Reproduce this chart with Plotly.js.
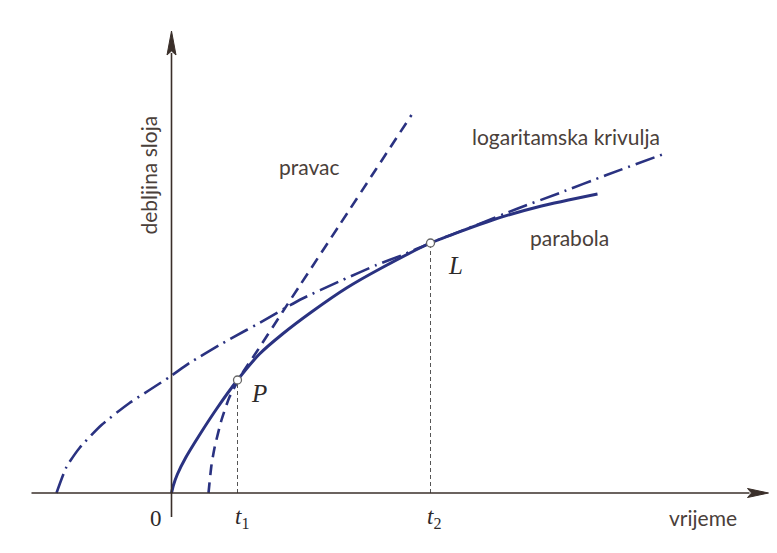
<!DOCTYPE html>
<html>
<head>
<meta charset="utf-8">
<script src="https://cdn.plot.ly/plotly-3.0.1.min.js"></script>
<style>html,body{margin:0;padding:0;background:#fff;}#chart{width:777px;height:553px;}</style>
</head>
<body>
<div id="chart"></div>
<script>
// Parabola (solid)
const parabolaX = [0, 2, 6, 14, 28, 45, 66, 88, 111, 140, 175, 210, 259, 321, 370, 426];
const parabolaY = [0, 8, 19, 35, 58, 84, 113, 139, 159, 181, 205, 225, 250, 273, 287, 299];
// Pravac (dashed)
const pravacX = [37, 38, 40, 43, 50, 58, 71, 85, 111, 128, 168, 204, 240];
const pravacY = [0, 10, 28, 45, 73, 96, 120, 141, 181, 207, 268, 323, 378];
// Logaritamska krivulja (dash-dot)
const logX = [-115, -105, -92, -70, -42, -22, -2, 18, 48, 75, 88, 128, 171, 205, 231, 259, 305, 345, 388, 435, 495];
const logY = [0, 26, 45, 68, 90, 103, 116, 130, 148, 163, 170, 193, 213, 228, 238, 250, 268, 284, 300, 318, 340];
// Marked points P and L
const pointNames = ["P", "L"];
const pointX = [66, 259];
const pointY = [113, 250];
// Tick labels on time axis
const tickLabels = ["0", "<i>t</i><sub>1</sub>", "<i>t</i><sub>2</sub>"];
const tickX = [-16, 70, 262];

const navy = "#2a3281";
const ink = "#3a2f2a";
const txt = "#4a403a";
const sans = "Lato";
const sansSize = 21;

const traces = [
  {x: logX, y: logY, mode: "lines", line: {color: navy, width: 2.6, dash: "20px,6px,2px,6px", shape: "spline", smoothing: 0.6}, hoverinfo: "skip"},
  {x: pravacX, y: pravacY, mode: "lines", line: {color: navy, width: 2.6, dash: "11px,7px", shape: "spline", smoothing: 0.6}, hoverinfo: "skip"},
  {x: parabolaX, y: parabolaY, mode: "lines", line: {color: navy, width: 3, shape: "spline", smoothing: 0.6}, hoverinfo: "skip"}
];
// vertical guide lines from the points down to the time axis
pointX.forEach((px, i) => {
  traces.push({x: [px, px], y: [0, pointY[i]], mode: "lines", line: {color: "#555", width: 1, dash: "4px,3px"}, hoverinfo: "skip"});
});
traces.push({x: pointX, y: pointY, mode: "markers", marker: {size: 8, color: "#fff", line: {color: "#666", width: 1.3}}, hoverinfo: "skip"});

const annotations = [
  {x: 138, y: 327, text: "pravac", font: {family: sans, size: sansSize, color: txt}},
  {x: 394, y: 357, text: "logaritamska krivulja", font: {family: sans, size: sansSize, color: txt}},
  {x: 398, y: 256, text: "parabola", font: {family: sans, size: sansSize, color: txt}},
  {x: 531, y: -24, text: "vrijeme", font: {family: sans, size: sansSize, color: txt}},
  {x: -24, y: 318, text: "debljina sloja", textangle: -90, font: {family: sans, size: sansSize, color: txt}},
  {x: pointX[0] + 21, y: pointY[0] - 13, text: "<i>" + pointNames[0] + "</i>", font: {family: "Liberation Serif", size: 25, color: "#2d2a2a"}},
  {x: pointX[1] + 25, y: pointY[1] - 22, text: "<i>" + pointNames[1] + "</i>", font: {family: "Liberation Serif", size: 25, color: "#2d2a2a"}}
].map(a => Object.assign({xref: "x", yref: "y", showarrow: false, xanchor: "center", yanchor: "middle"}, a));

tickLabels.forEach((t, i) => {
  annotations.push({xref: "x", yref: "y", x: tickX[i], y: -25, text: t, showarrow: false,
    xanchor: "center", yanchor: "middle",
    font: {family: "Liberation Serif", size: 23, color: "#2d2a2a"}});
});

const shapes = [
  {type: "line", xref: "x", yref: "y", x0: -140, y0: 0, x1: 578, y1: 0, line: {color: ink, width: 1.6}},
  {type: "path", xref: "x", yref: "y", path: "M576,4.5 L597,0 L576,-4.5 L580,0 Z", fillcolor: ink, line: {color: ink, width: 1}},
  {type: "line", xref: "x", yref: "y", x0: 0, y0: -24, x1: 0, y1: 440, line: {color: ink, width: 1.6}},
  {type: "path", xref: "x", yref: "y", path: "M-4.5,438 L0,462 L4.5,438 L0,442 Z", fillcolor: ink, line: {color: ink, width: 1}}
];

const layout = {
  width: 777, height: 553,
  margin: {l: 0, r: 0, t: 0, b: 0},
  paper_bgcolor: "#fff", plot_bgcolor: "#fff",
  showlegend: false,
  xaxis: {range: [-171.5, 605.5], visible: false, fixedrange: true},
  yaxis: {range: [-60, 493], visible: false, fixedrange: true},
  shapes: shapes,
  annotations: annotations
};

Plotly.newPlot("chart", traces, layout, {staticPlot: true, displayModeBar: false});
</script>
</body>
</html>
